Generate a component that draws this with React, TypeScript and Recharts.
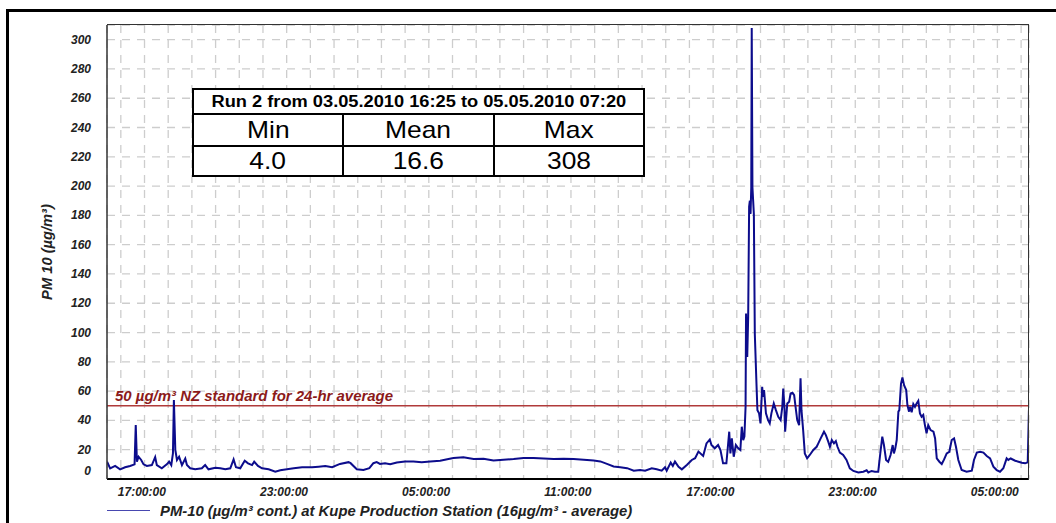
import React from 'react'
import { LineChart, Line, XAxis, YAxis, CartesianGrid, ReferenceLine } from 'recharts'

// hours since 17:00 on 03.05.2010 (run: 16:25 day 1 -> 07:20 day 3)
const hours = [
  -0.58, -0.45, -0.24, -0.03, 0.18, 0.39, 0.58, 0.63, 0.68, 0.75, 0.86, 0.96, 1.1, 1.31, 1.45, 1.52, 1.73, 1.94,
  2.04, 2.13, 2.2, 2.24, 2.3, 2.37, 2.46, 2.58, 2.72, 2.79, 2.93, 3.14, 3.42, 3.56, 3.7, 3.99, 4.2, 4.41, 4.62,
  4.76, 4.86, 5.04, 5.23, 5.37, 5.54, 5.63, 5.79, 5.96, 6.24, 6.52, 6.73, 7.01, 7.3, 7.65, 8.07, 8.35, 8.63, 8.92,
  9.25, 9.61, 9.7, 9.96, 10.24, 10.49, 10.66, 10.8, 10.94, 11.15, 11.37, 11.65, 12.0, 12.35, 12.7, 13.06, 13.48,
  13.83, 14.04, 14.46, 14.89, 15.31, 15.73, 16.15, 16.58, 17.0, 17.42, 17.85, 18.27, 18.69, 19.11, 19.54, 19.96,
  20.24, 20.52, 20.8, 21.08, 21.37, 21.65, 21.92, 22.13, 22.41, 22.62, 22.83, 22.97, 23.04, 23.21, 23.3, 23.39,
  23.54, 23.68, 23.89, 24.1, 24.24, 24.38, 24.58, 24.72, 24.86, 24.93, 25.07, 25.21, 25.31, 25.42, 25.56, 25.68,
  25.73, 25.79, 25.87, 25.96, 26.06, 26.15, 26.21, 26.27, 26.32, 26.37, 26.39, 26.44, 26.48, 26.52, 26.55, 26.58,
  26.61, 26.63, 26.66, 26.69, 26.72, 26.76, 26.83, 26.87, 26.94, 27.0, 27.07, 27.11, 27.15, 27.23, 27.32, 27.39,
  27.46, 27.56, 27.65, 27.75, 27.85, 27.92, 27.96, 28.01, 28.04, 28.13, 28.21, 28.27, 28.35, 28.42, 28.48, 28.55,
  28.63, 28.69, 28.73, 28.8, 28.87, 28.97, 29.08, 29.23, 29.37, 29.44, 29.54, 29.68, 29.76, 29.86, 29.93, 30.01,
  30.1, 30.18, 30.25, 30.35, 30.49, 30.63, 30.77, 30.92, 31.13, 31.34, 31.48, 31.55, 31.69, 31.83, 31.97, 32.04,
  32.14, 32.21, 32.3, 32.39, 32.49, 32.58, 32.63, 32.69, 32.75, 32.82, 32.86, 32.93, 32.99, 33.06, 33.15, 33.2,
  33.27, 33.32, 33.38, 33.45, 33.52, 33.59, 33.66, 33.73, 33.8, 33.87, 33.94, 34.01, 34.08, 34.18, 34.3, 34.37,
  34.44, 34.55, 34.65, 34.75, 34.86, 34.97, 35.07, 35.17, 35.25, 35.35, 35.49, 35.7, 35.92, 36.01, 36.13, 36.27,
  36.41, 36.55, 36.69, 36.83, 36.97, 37.11, 37.25, 37.39, 37.46, 37.56, 37.75, 37.89, 38.03, 38.17, 38.28, 38.33,
]

// PM-10 µg/m³
const pm10 = [
  11.8, 7.3, 8.9, 6.6, 8, 8.9, 10, 36.8, 11.8, 15.2, 13, 10, 8.9, 9.5, 15, 9.5, 7.3, 10,
  11.8, 9.5, 17.5, 53.9, 19.8, 13, 15.2, 9.5, 14, 9.5, 7.3, 6.6, 7.3, 9.5, 6.6, 7.7, 7.3, 6.6, 7.3,
  13.4, 8, 7.3, 12.5, 10.7, 9.5, 11.8, 8.9, 7.3, 6.6, 5, 6, 6.6, 7.3, 8, 8, 8.4, 8.9, 8,
  10.3, 11.5, 10.8, 6.7, 6.2, 7.4, 10.8, 11.5, 10.3, 10.8, 10.1, 11.3, 12, 12, 11.5, 12, 12.4,
  13.6, 14.3, 14.9, 13.6, 13.8, 12.6, 13.1, 13.6, 14.3, 14.3, 14, 13.6, 13.8, 13.6, 13.1, 12.6,
  12, 10.3, 8.5, 8, 7.4, 5.7, 6.2, 5.7, 7.3, 6.6, 5.7, 8, 5.7, 11.2, 8.9, 11.9,
  8.4, 6.6, 9.6, 13, 14.2, 18.7, 15.7, 24.3, 27, 23.2, 21, 23.2, 19.8, 10.7, 10.7, 32.3,
  17.5, 27.7, 15.2, 23.2, 21, 19.8, 35.7, 26.6, 28.9, 49.3, 113, 83.4, 110.7, 186, 190, 181,
  199, 308, 199, 190, 181, 99, 65, 47, 44.8, 38, 63, 56, 60.7, 44.8, 40.2, 38,
  44.8, 51.6, 47, 42.5, 40.2, 49.3, 61.8, 49.3, 32.3, 51.6, 52.8, 58.4, 58.9, 57.3, 49.3, 40.2,
  36.8, 68.7, 47, 33.4, 17.5, 14.1, 16.4, 19.8, 22, 24.3, 27.7, 32.3, 30, 25.5, 22, 26.6,
  24.3, 25.9, 22, 18, 16.4, 13, 7.3, 5.5, 4.5, 5, 6, 4.5, 5.5, 5, 5, 15.2,
  28.9, 23.2, 13, 11.8, 16.4, 23.2, 17.5, 21, 26.6, 46, 47, 65, 69.3, 64, 60.7, 50.5,
  46, 49.3, 45.5, 51.2, 49.3, 51.6, 53.4, 44.8, 42.5, 43.7, 36.8, 31.2, 36.8, 33.4, 32.3, 27.7,
  14.1, 11.8, 10.2, 13.4, 17.5, 18.6, 26.6, 27.7, 22, 13, 6.1, 5, 5.7, 13, 18, 18.6,
  18, 15.7, 14.1, 8.4, 6.1, 5, 7.3, 14.1, 13, 14, 12.5, 11.8, 11.1, 10.7, 11.4, 47,
]

const labelHours = [0, 6, 12, 18, 24, 30, 36]
const timeLabels = ['17:00:00', '23:00:00', '05:00:00', '11:00:00', '17:00:00', '23:00:00', '05:00:00']
const yTicks = [0, 20, 40, 60, 80, 100, 120, 140, 160, 180, 200, 220, 240, 260, 280, 300]
const statNames = ['Min', 'Mean', 'Max']
const statValues = ['4.0', '16.6', '308']

const gridHours = Array.from({ length: 39 }, (_, i) => i)
const data = hours.map((h, i) => ({ h, v: pm10[i] }))

const FONT = '"Liberation Sans", Arial, Helvetica, sans-serif'

const XTick = ({ x, payload }: any) => {
  const i = labelHours.indexOf(payload.value)
  if (i < 0) return null
  return (
    <text x={x - 3} y={496} textAnchor="start" fontSize={12} fontWeight="bold" fontStyle="italic" fill="#222" fontFamily={FONT}>
      {timeLabels[i]}
    </text>
  )
}

const YTick = ({ y, payload }: any) => (
  <text x={91} y={y + 4 - (payload.value === 0 ? 8 : 0)} textAnchor="end" fontSize={12} fontWeight="bold" fontStyle="italic" fill="#222" fontFamily={FONT}>
    {payload.value}
  </text>
)

const cell: React.CSSProperties = { border: '2px solid #000', padding: 0, textAlign: 'center', lineHeight: 1 }

export default function App() {
  return (
    <div style={{ position: 'absolute', left: 0, top: 0, width: 1056, height: 523, background: '#fff', overflow: 'hidden', fontFamily: FONT }}>
      <div style={{ position: 'absolute', left: 6, top: 9, width: 1200, height: 700, border: '3px solid #000' }} />
      <div style={{ position: 'absolute', left: 0, top: 0 }}>
        <LineChart width={1056} height={523} data={data} margin={{ top: 25, right: 27, bottom: 0, left: 47 }}>
          <CartesianGrid stroke="#cdcdcd" strokeWidth={1.3} strokeDasharray="8 7" />
          <XAxis
            dataKey="h" type="number" domain={[-0.5833, 38.333]} ticks={gridHours} interval={0}
            height={44} tick={<XTick />} tickLine={false}
            axisLine={{ stroke: '#000', strokeWidth: 2 }} allowDataOverflow
          />
          <YAxis
            type="number" domain={[0, 310]} ticks={yTicks} interval={0} width={60}
            tick={<YTick />} tickLine={false} axisLine={{ stroke: '#333', strokeWidth: 1.5 }}
            label={() => (
              <text transform="translate(52,252) rotate(-90) scale(1.05,1)" textAnchor="middle" fontSize={14} fontWeight="bold" fontStyle="italic" fill="#222" fontFamily={FONT}>
                PM 10 (µg/m³)
              </text>
            )}
          />
          <ReferenceLine
            y={50} stroke="#b03a3a" strokeWidth={1.3}
            label={() => (
              <text transform="translate(115,401) scale(1.07,1)" fontSize={14} fontWeight="bold" fontStyle="italic" fill="#8b1a1a" fontFamily={FONT}>
                50 µg/m³ NZ standard for 24-hr average
              </text>
            )}
          />
          <Line type="linear" dataKey="v" stroke="#0c0c8c" strokeWidth={2} dot={false} isAnimationActive={false} />
        </LineChart>
      </div>
      <div style={{ position: 'absolute', left: 107, top: 24, width: 921, height: 455, borderTop: '1px solid #333', borderRight: '1px solid #333', pointerEvents: 'none' }} />
      <table style={{ position: 'absolute', left: 192, top: 88, width: 453, tableLayout: 'fixed', borderCollapse: 'collapse', background: '#fff' }}>
        <tbody>
          <tr style={{ height: 25 }}>
            <td colSpan={3} style={{ ...cell, fontSize: 16, fontWeight: 'bold' }}>
              <span style={{ display: 'inline-block', transform: 'scaleX(1.14)' }}>Run 2 from 03.05.2010 16:25 to 05.05.2010 07:20</span>
            </td>
          </tr>
          <tr style={{ height: 32 }}>
            {statNames.map(s => (
              <td key={s} style={{ ...cell, fontSize: 24 }}>
                <span style={{ display: 'inline-block', transform: 'scaleX(1.1)' }}>{s}</span>
              </td>
            ))}
          </tr>
          <tr style={{ height: 30 }}>
            {statValues.map(s => (
              <td key={s} style={{ ...cell, fontSize: 24 }}>
                <span style={{ display: 'inline-block', transform: 'scaleX(1.1)' }}>{s}</span>
              </td>
            ))}
          </tr>
        </tbody>
      </table>
      <div style={{ position: 'absolute', left: 107, top: 510, width: 43, height: 1, background: '#4848b0' }} />
      <div style={{ position: 'absolute', left: 160, top: 503, fontSize: 14, fontWeight: 'bold', fontStyle: 'italic', color: '#222', whiteSpace: 'nowrap', lineHeight: '16px', transform: 'scaleX(1.06)', transformOrigin: 'left center' }}>
        PM-10 (µg/m³ cont.) at Kupe Production Station (16µg/m³ - average)
      </div>
    </div>
  )
}
